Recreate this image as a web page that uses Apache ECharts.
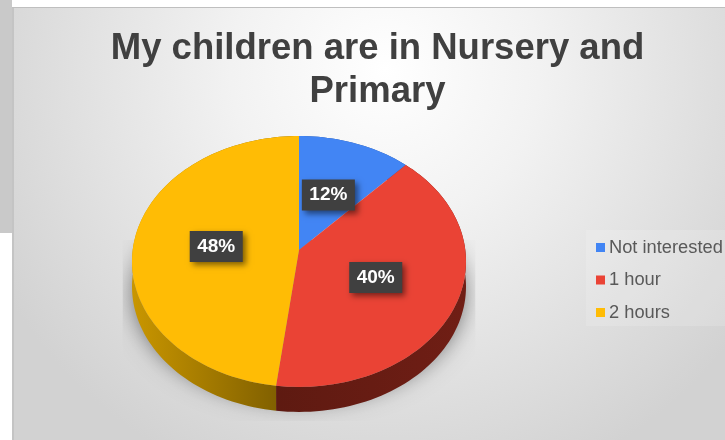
<!DOCTYPE html>
<html>
<head>
<meta charset="utf-8">
<style>
    html, body { margin: 0; padding: 0; background: #fff; }
    #chart { width: 725px; height: 440px; }
</style>
<script src="https://cdn.jsdelivr.net/npm/echarts@6/dist/echarts.min.js"></script>
</head>
<body>
<div id="chart"></div>
<script>
const titleLines = ['My children are in Nursery and', 'Primary'];
const categories = ['Not interested', '1 hour', '2 hours'];
const shares = [12, 40, 48];

const topColors = ['#4285F4', '#EA4335', '#FFBC05'];
// 侧面颜色 [左, 右]
const wallColors = [['#27509a', '#27509a'], ['#5e1a11', '#701e15'], ['#c99600', '#765800']];

// 透视饼图：圆心不在椭圆中心，近处略大
const pie = { cx: 299, cy: 250, a: 166.3, b: 124.4, k: -0.0915, depth: 25 };
const total = shares.reduce((sum, v) => sum + v, 0);

function project(share, r) {
    const angle = share / total * Math.PI * 2;
    const u = Math.sin(angle) * r;
    const v = -Math.cos(angle) * r;
    const f = 1 + pie.k * v;
    return [pie.cx + pie.a * u / f, pie.cy + pie.b * v / f];
}

function arcPoints(from, to) {
    const points = [];
    const steps = Math.max(2, Math.ceil((to - from) * 2));
    for (let i = 0; i <= steps; i++) {
        points.push(project(from + (to - from) * i / steps, 1));
    }
    return points;
}

function sliceRenderer(index) {
    return function (params, api) {
        const from = shares.slice(0, index).reduce((sum, v) => sum + v, 0);
        const to = from + api.value(0);
        const arc = arcPoints(from, to);
        const lowered = arc.map(p => [p[0], p[1] + pie.depth]).reverse();
        const xs = arc.map(p => p[0]);
        const labelPos = project((from + to) / 2, 0.5);
        return {
            type: 'group',
            children: [{
                type: 'polygon',
                z2: 1,
                shape: { points: arc.concat(lowered) },
                style: {
                    fill: new echarts.graphic.LinearGradient(Math.min(...xs), 0, Math.max(...xs), 0, [
                        { offset: 0, color: wallColors[index][0] },
                        { offset: 1, color: wallColors[index][1] }
                    ], true)
                }
            }, {
                type: 'polygon',
                z2: 2,
                shape: { points: [[pie.cx, pie.cy]].concat(arc) },
                style: { fill: api.visual('color') }
            }, {
                type: 'text',
                z2: 3,
                x: labelPos[0],
                y: labelPos[1] + 0.5,
                style: {
                    text: api.value(0) + '%',
                    font: 'bold 19px "Liberation Sans", Arial, sans-serif',
                    fill: '#fff',
                    align: 'center',
                    verticalAlign: 'middle',
                    backgroundColor: '#404040',
                    padding: [6, 7.5, 6, 7.5],
                    shadowBlur: 6,
                    shadowColor: 'rgba(0, 0, 0, 0.5)',
                    shadowOffsetX: 3,
                    shadowOffsetY: 3
                }
            }]
        };
    };
}

// 饼图下方的投影，裁成矩形
function shadowRenderer() {
    const arc = arcPoints(0, total);
    const ellipseY = 262;
    return {
        type: 'group',
        clipPath: {
            type: 'rect',
            shape: { x: pie.cx - pie.a - 10, y: pie.cy - 10, width: pie.a * 2 + 20, height: 181 }
        },
        children: [{
            type: 'polygon',
            shape: {
                points: arc.map(p => [pie.cx + (p[0] - pie.cx) * 0.98, ellipseY + (p[1] - ellipseY) * 0.85 + 30])
            },
            style: {
                fill: '#8f8f8f',
                shadowBlur: 24,
                shadowColor: 'rgba(0, 0, 0, 0.6)',
                shadowOffsetY: 2
            }
        }]
    };
}

const series = categories.map((name, index) => ({
    name: name,
    type: 'custom',
    coordinateSystem: 'none',
    z: 3,
    itemStyle: { color: topColors[index] },
    renderItem: sliceRenderer(index),
    data: [[shares[index]]]
}));

series.unshift({
    name: 'shadow',
    type: 'custom',
    coordinateSystem: 'none',
    z: 2,
    silent: true,
    renderItem: shadowRenderer,
    data: [[1]]
});

const option = {
    animation: false,
    backgroundColor: '#fff',
    title: {
        text: titleLines.join('\n'),
        left: 372.5,
        top: 22,
        textAlign: 'center',
        textStyle: {
            fontFamily: '"Liberation Sans", Arial, sans-serif',
            fontWeight: 'bold',
            fontSize: 36.5,
            lineHeight: 43,
            color: '#404040'
        }
    },
    legend: {
        data: categories,
        orient: 'vertical',
        left: 596,
        top: 238.5,
        padding: 0,
        icon: 'rect',
        itemWidth: 9,
        itemHeight: 9,
        itemGap: 14.5,
        textStyle: {
            fontFamily: '"Liberation Sans", Arial, sans-serif',
            fontSize: 18.3,
            color: '#595959',
            padding: [0, 0, 0, -1]
        }
    },
    graphic: [{
        type: 'rect',
        z: -10,
        shape: { x: 0, y: 0, width: 12, height: 233 },
        style: { fill: '#c9c9c9' }
    }, {
        type: 'rect',
        z: -9,
        shape: { x: 12, y: 7, width: 713, height: 433 },
        style: {
            fill: new echarts.graphic.RadialGradient(385, 70, 440, [
                { offset: 0, color: '#ffffff' },
                { offset: 0.35, color: '#f2f2f2' },
                { offset: 1, color: '#d2d2d2' }
            ], true)
        }
    }, {
        type: 'rect',
        z: -8,
        shape: { x: 12, y: 7, width: 713, height: 1 },
        style: { fill: '#bfbfbf' }
    }, {
        type: 'rect',
        z: -8,
        shape: { x: 12, y: 8, width: 2, height: 432 },
        style: { fill: '#c4c4c4' }
    }, {
        type: 'rect',
        z: -7,
        shape: { x: 586, y: 230, width: 139, height: 96 },
        style: { fill: 'rgba(255, 255, 255, 0.15)' }
    }],
    series: series
};

const myChart = echarts.init(document.getElementById('chart'));
myChart.setOption(option);
</script>
</body>
</html>
